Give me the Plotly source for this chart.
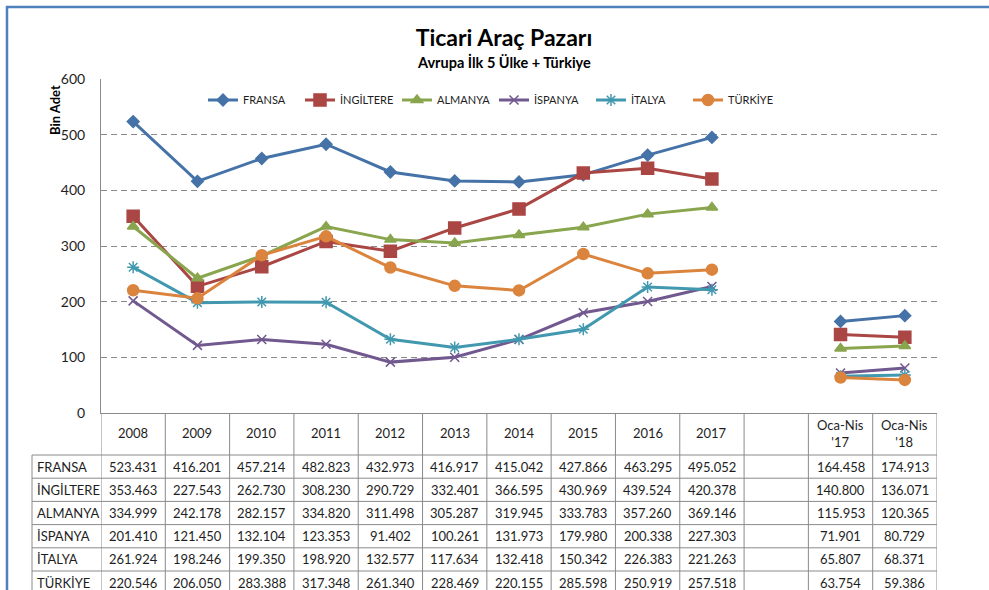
import plotly.graph_objects as go

# ---------------- data ----------------
categories = ["2008", "2009", "2010", "2011", "2012", "2013", "2014", "2015",
              "2016", "2017", "", "Oca-Nis<br>'17", "Oca-Nis<br>'18"]
series_names = ["FRANSA", "İNGİLTERE", "ALMANYA", "İSPANYA", "İTALYA", "TÜRKİYE"]
fransa = [523.431, 416.201, 457.214, 482.823, 432.973, 416.917, 415.042, 427.866,
          463.295, 495.052, None, 164.458, 174.913]
ingiltere = [353.463, 227.543, 262.730, 308.230, 290.729, 332.401, 366.595, 430.969,
             439.524, 420.378, None, 140.800, 136.071]
almanya = [334.999, 242.178, 282.157, 334.820, 311.498, 305.287, 319.945, 333.783,
           357.260, 369.146, None, 115.953, 120.365]
ispanya = [201.410, 121.450, 132.104, 123.353, 91.402, 100.261, 131.973, 179.980,
           200.338, 227.303, None, 71.901, 80.729]
italya = [261.924, 198.246, 199.350, 198.920, 132.577, 117.634, 132.418, 150.342,
          226.383, 221.263, None, 65.807, 68.371]
turkiye = [220.546, 206.050, 283.388, 317.348, 261.340, 228.469, 220.155, 285.598,
           250.919, 257.518, None, 63.754, 59.386]
y_ticks = [0, 100, 200, 300, 400, 500, 600]

series_values = [fransa, ingiltere, almanya, ispanya, italya, turkiye]

# ---------------- styles ----------------
colors = ["#4572A7", "#AA4643", "#89A54E", "#71588F", "#4198AF", "#DB843D"]
symbols = ["diamond", "square", "triangle-up", "x-thin-open", "asterisk-open", "circle"]
msizes = [9, 12, 10, 9, 10, 11]
FONT = "Lato"
TXT = "#1e1e1e"
GRID = "#8a8a8a"

W, H = 989, 590
PL, PR, PT, PB = 101, 937, 79, 413


def ypap(p):
    return (PB - p) / (PB - PT)


def xpap(p):
    return (p - PL) / (PR - PL)


xs = list(range(len(categories)))

fig = go.Figure()
for name, vals, c, s, ms in zip(series_names, series_values, colors, symbols, msizes):
    fig.add_trace(go.Scatter(
        x=xs, y=vals, name=name, mode="lines+markers",
        line=dict(color=c, width=3),
        marker=dict(symbol=s, size=ms, color=c, line=dict(color=c, width=1.5)),
        connectgaps=False, cliponaxis=False,
    ))

shapes = []
annotations = []

# table geometry (pixels)
HEAD_BOT = 455
ROW_H = 23.2
TAB_L = 32
row_lines = [HEAD_BOT + ROW_H * i for i in range(len(series_names) + 1)]
line_style = dict(color=GRID, width=1)

# vertical column lines
for i in range(len(categories) + 1):
    shapes.append(dict(type="line", xref="x", yref="paper", x0=i - 0.5, x1=i - 0.5,
                       y0=ypap(PB), y1=ypap(row_lines[-1]), line=line_style))
# left label column line
shapes.append(dict(type="line", xref="paper", yref="paper", x0=xpap(TAB_L), x1=xpap(TAB_L),
                   y0=ypap(HEAD_BOT), y1=ypap(row_lines[-1]), line=line_style))
# horizontal lines
for r in row_lines:
    shapes.append(dict(type="line", xref="paper", yref="paper", x0=xpap(TAB_L), x1=1,
                       y0=ypap(r), y1=ypap(r), line=line_style))

# header labels
for i, cat in enumerate(categories):
    if cat:
        annotations.append(dict(xref="x", yref="paper", x=i, y=ypap((PB + HEAD_BOT) / 2 - 1),
                                text=cat, showarrow=False, font=dict(family=FONT, size=13, color=TXT),
                                xanchor="center", yanchor="middle"))

# data rows
for r, (name, vals) in enumerate(zip(series_names, series_values)):
    yc = ypap(row_lines[r] + ROW_H / 2)
    annotations.append(dict(xref="paper", yref="paper", x=xpap(TAB_L + 3), y=yc, text=name,
                            showarrow=False, xanchor="left", yanchor="middle",
                            font=dict(family=FONT, size=13, color=TXT)))
    for i, v in enumerate(vals):
        if v is None:
            continue
        annotations.append(dict(xref="x", yref="paper", x=i, y=yc, text=f"{v:.3f}",
                                showarrow=False, xanchor="center", yanchor="middle",
                                font=dict(family=FONT, size=13, color=TXT)))

# y axis title
annotations.append(dict(xref="paper", yref="paper", x=xpap(55), y=ypap(110), text="<b>Bin Adet</b>",
                        textangle=-90, showarrow=False, xanchor="center", yanchor="middle",
                        font=dict(family=FONT, size=13, color="#000000")))
# subtitle
annotations.append(dict(xref="paper", yref="paper", x=xpap(504), y=ypap(62),
                        text="<b>Avrupa İlk 5 Ülke + Türkiye</b>", showarrow=False,
                        xanchor="center", yanchor="middle",
                        font=dict(family=FONT, size=14.5, color="#000000")))

# outer frame (blue)
shapes.append(dict(type="rect", xref="paper", yref="paper", x0=xpap(7), x1=xpap(1100),
                   y0=ypap(700), y1=ypap(7), line=dict(color="#4F81BD", width=2.5),
                   fillcolor="rgba(0,0,0,0)", layer="above"))

fig.update_layout(
    width=W, height=H,
    margin=dict(l=PL, r=W - PR, t=PT, b=H - PB),
    paper_bgcolor="white", plot_bgcolor="white",
    title=dict(text="<b>Ticari Araç Pazarı</b>", xref="container", yref="container",
               x=504 / W, y=1 - 38 / H, xanchor="center", yanchor="middle",
               font=dict(family=FONT, size=23, color="#000000")),
    font=dict(family=FONT, color=TXT),
    showlegend=True,
    legend=dict(orientation="h", x=xpap(203), y=ypap(100), xanchor="left", yanchor="middle",
                font=dict(family=FONT, size=11, color=TXT), bgcolor="rgba(0,0,0,0)",
                entrywidth=52, itemwidth=30),
    xaxis=dict(range=[-0.5, len(categories) - 0.5], showticklabels=False, showgrid=False,
               zeroline=False, showline=True, linecolor=GRID, linewidth=1, ticks=""),
    yaxis=dict(range=[0, 600], tickvals=y_ticks, showgrid=True, gridcolor=GRID, gridwidth=1,
               griddash="6px,4px", zeroline=False, showline=True, linecolor=GRID, linewidth=1,
               ticks="outside", ticklen=12, tickcolor="rgba(0,0,0,0)",
               tickfont=dict(family=FONT, size=14, color=TXT)),
    shapes=shapes, annotations=annotations,
)

fig.write_html("out.html", config={"displayModeBar": False},
               post_script="document.body.style.margin='0px';document.body.style.padding='0px';")
